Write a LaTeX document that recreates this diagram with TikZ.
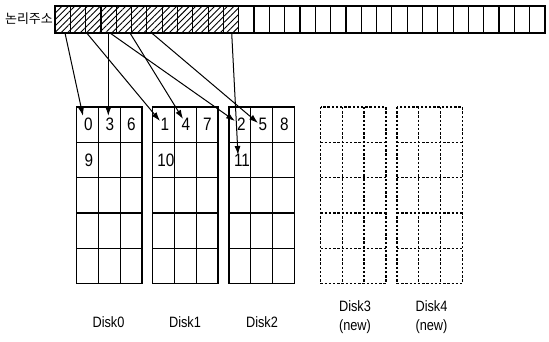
\documentclass[tikz,border=0pt]{standalone}
\usepackage{fontspec}
\setmainfont{Liberation Sans}
\newfontfamily\lbl[FakeStretch=0.85]{Liberation Sans}
\newfontfamily\kr{Noto Sans CJK KR}
\usetikzlibrary{arrows.meta,patterns.meta}
\begin{document}
\begin{tikzpicture}[x=1pt,y=-1pt,line width=1.2pt,
  newdisk/.style={line width=1.3pt,dash pattern=on 2.4pt off 1.8pt},
  arr/.style={line width=1pt,-{Latex[length=9pt,width=6pt]}},
  digit/.style={font=\lbl\fontsize{18}{18}\selectfont,inner sep=0pt},
  disklabel/.style={font=\lbl\fontsize{15}{19}\selectfont,align=center,inner sep=0pt}]
\useasboundingbox (0,0) rectangle (549,342);
% logical address strip
\node[font=\kr\fontsize{13}{13}\selectfont,inner sep=0pt] (lab) at (29,19) {논리주소};
\fill[pattern={Lines[angle=45,distance=4.5pt,line width=0.9pt]}] (55,6) rectangle (238.75,33);
\draw (55,6) rectangle (545,33);
\foreach \i in {1,...,31} \draw (55+15.3125*\i,6) -- (55+15.3125*\i,33);
% existing disks
\foreach \x in {76.5,152.5,229} {
  \draw (\x,107) rectangle ++(65.4,176.5);
  \foreach \c in {1,2} \draw (\x+21.8*\c,107) -- ++(0,176.5);
  \foreach \r in {1,...,4} \draw (\x,107+35.3*\r) -- ++(65.4,0);
}
% new disks
\foreach \x in {320.5,397} {
  \draw[newdisk] (\x,107) rectangle ++(65.4,176.5);
  \foreach \c in {1,2} \draw[newdisk] (\x+21.8*\c,107) -- ++(0,176.5);
  \foreach \r in {1,...,4} \draw[newdisk] (\x,107+35.3*\r) -- ++(65.4,0);
}
% block numbers
\node[digit] (d0) at (88.5,124) {0};
\node[digit] (d3) at (110,124) {3};
\node[digit] (d6) at (131.5,124) {6};
\node[digit] (d9) at (89,160) {9};
\node[digit] (d1) at (165,124) {1};
\node[digit] (d4) at (186,124) {4};
\node[digit] (d7) at (207.5,124) {7};
\node[digit] (d10) at (166,160) {10};
\node[digit] (d2) at (241.5,124) {2};
\node[digit] (d5) at (263,124) {5};
\node[digit] (d8) at (284.5,124) {8};
\node[digit] (d11) at (242,160) {11};
% arrow ends
\coordinate (s0) at (65,33);    \coordinate (t0) at (83,116);
\coordinate (s1) at (86.7,33);  \coordinate (t1) at (160,121);
\coordinate (s2) at (110,33);   \coordinate (t2) at (235,121);
\coordinate (s3) at (108.3,33); \coordinate (t3) at (108.3,116);
\coordinate (s4) at (130,33);   \coordinate (t4) at (183,119);
\coordinate (s5) at (151.7,33); \coordinate (t5) at (258,123);
\coordinate (s11) at (231.7,33);\coordinate (t11) at (238,155);
\foreach \k in {0,1,2,3,4,5,11} \draw[arr] (s\k) -- (t\k);
% labels
\node[disklabel] (l0) at (108.5,322) {Disk0};
\node[disklabel] (l1) at (185,322) {Disk1};
\node[disklabel] (l2) at (262,322) {Disk2};
\node[disklabel] (l3) at (355,317.5) {Disk3\\(new)};
\node[disklabel] (l4) at (431.5,317.5) {Disk4\\(new)};
\end{tikzpicture}
\end{document}
